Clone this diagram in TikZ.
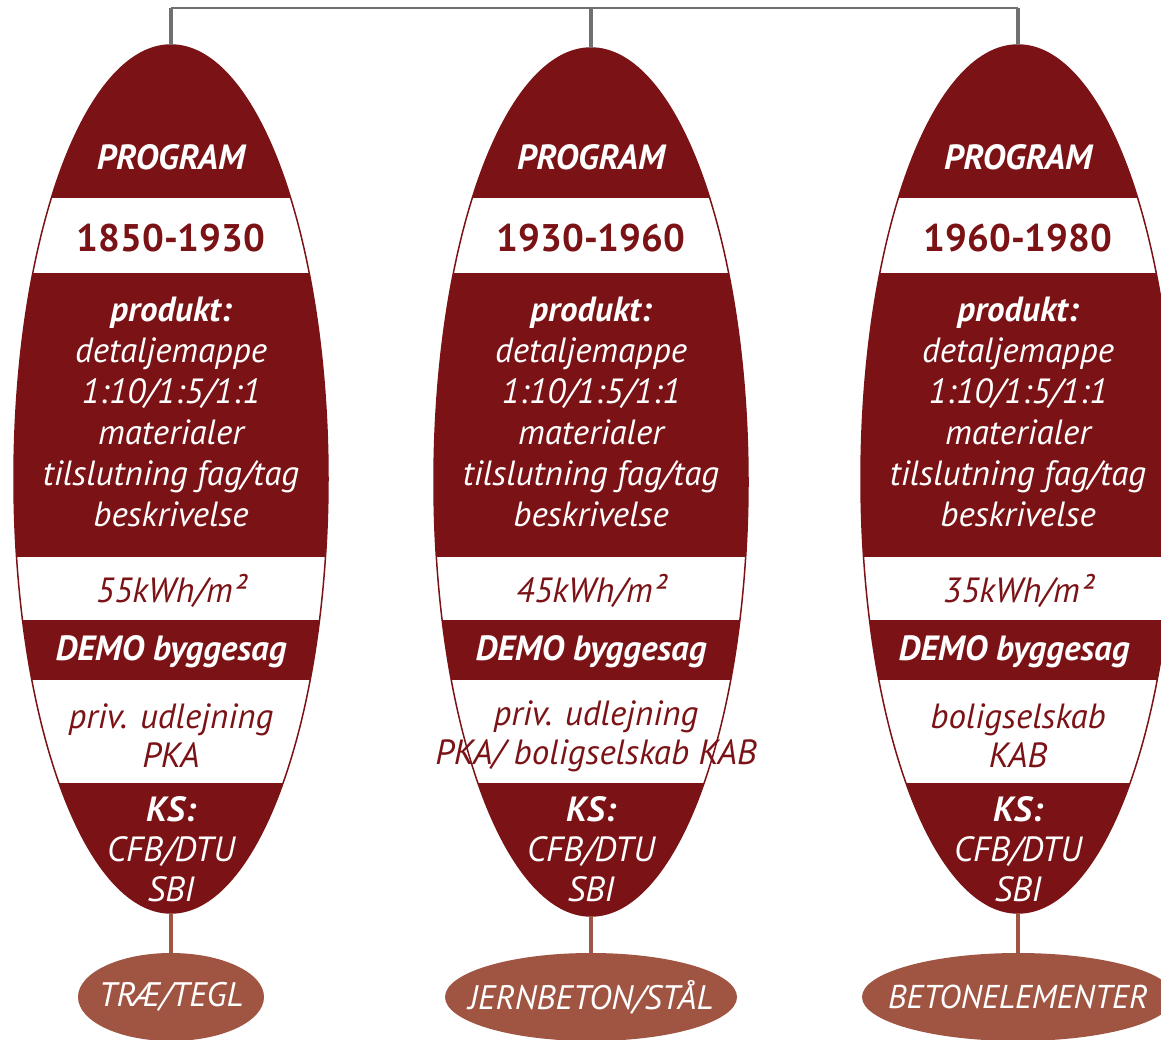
\documentclass[tikz,border=0pt]{standalone}
\usepackage{fontspec}
\setmainfont{PT Sans}
\usetikzlibrary{shapes.geometric,positioning}
\definecolor{wine}{RGB}{123,19,22}
\definecolor{clay}{RGB}{160,84,66}
\definecolor{wire}{RGB}{112,112,112}

\begin{document}
\begin{tikzpicture}[x=1pt,y=-1pt]
\tikzstyle{every node}+=[inner sep=0pt]
\tikzstyle{oval}=[ellipse, fill=wine, minimum width=314pt, minimum height=868pt]
\tikzstyle{base}=[ellipse, fill=clay, minimum height=88pt]
\tikzstyle{baselabel}=[text=white, font=\fontsize{34}{38}\selectfont\itshape]
\tikzstyle{head}=[text=white, font=\fontsize{35}{40}\selectfont\bfseries\itshape]
\tikzstyle{year}=[text=wine, font=\fontsize{38.5}{44}\selectfont\bfseries]
\tikzstyle{body}=[text=white, align=center, font=\fontsize{35}{41}\selectfont\itshape]
\tikzstyle{bandtext}=[text=wine, align=center, font=\fontsize{35}{39}\selectfont\itshape]
\tikzstyle{rail}=[wire, line width=2pt]
\tikzstyle{stem}=[wire, line width=4pt]
\tikzstyle{foot}=[clay, line width=4pt]
\useasboundingbox (0,0) rectangle (1161,1040);

% top bar
\coordinate (t1) at (171,8);
\coordinate (t2) at (591,8);
\coordinate (t3) at (1018,8);

% big ovals
\node[oval] (p1) at (171,479) {};
\node[oval] (p2) at (591,482) {};
\node[oval] (p3) at (1018,479) {};

% white bands
\begin{scope}
\clip (p1.center) ellipse (157pt and 434pt) (p2.center) ellipse (157pt and 434pt) (p3.center) ellipse (157pt and 434pt);
\fill[white] (0,198) rectangle (1161,273);
\fill[white] (0,557) rectangle (1161,620);
\fill[white] (0,680) rectangle (1161,783);
\end{scope}
\draw[wine, line width=1.5pt] (p1.center) ellipse (157pt and 434pt);
\draw[wine, line width=1.5pt] (p2.center) ellipse (157pt and 434pt);
\draw[wine, line width=1.5pt] (p3.center) ellipse (157pt and 434pt);

\draw[rail] (t1) -- (t3);
\draw[stem] (t1) -- (p1.north);
\draw[stem] (t2) -- (p2.north);
\draw[stem] (t3) -- (p3.north);

% materials
\node[base, minimum width=186pt] (b1) at (171,997) {};
\node[base, minimum width=292pt] (b2) at (591,997) {};
\node[base, minimum width=312pt] (b3) at (1018,997) {};
\draw[foot] (p1.south) -- (b1.north);
\draw[foot] (p2.south) -- (b2.north);
\draw[foot] (p3.south) -- (b3.north);
\node[baselabel] (m1) at (b1) {TRÆ/TEGL};
\node[baselabel] (m2) at (b2) {JERNBETON/STÅL};
\node[baselabel, font=\fontsize{33}{38}\selectfont\itshape] (m3) at (b3) {BETONELEMENTER};

% column 1
\node[head] (h1) at (171,157) {PROGRAM};
\node[year] (y1) at (171,238) {1850-1930};
\node[body] (d1) at (171,412) {\textbf{produkt:}\\detaljemappe\\1:10/1:5/1:1\\materialer\\tilslutning fag/tag\\beskrivelse};
\node[bandtext] (k1) at (171,591) {55kWh/m²};
\node[head] (s1) at (171,652) {DEMO byggesag};
\node[bandtext] (c1) at (171,736) {priv. udlejning\\PKA};
\node[body, font=\fontsize{35}{40}\selectfont\itshape] (q1) at (171,849) {\textbf{KS:}\\CFB/DTU\\SBI};

% column 2
\node[head] (h2) at (591,157) {PROGRAM};
\node[year] (y2) at (591,238) {1930-1960};
\node[body] (d2) at (591,412) {\textbf{produkt:}\\detaljemappe\\1:10/1:5/1:1\\materialer\\tilslutning fag/tag\\beskrivelse};
\node[bandtext] (k2) at (591,591) {45kWh/m²};
\node[head] (s2) at (591,652) {DEMO byggesag};
\node[bandtext] (c2) at (596,736) {priv. udlejning\\PKA/ boligselskab KAB};
\node[body, font=\fontsize{35}{40}\selectfont\itshape] (q2) at (591,849) {\textbf{KS:}\\CFB/DTU\\SBI};

% column 3
\node[head] (h3) at (1018,157) {PROGRAM};
\node[year] (y3) at (1018,238) {1960-1980};
\node[body] (d3) at (1018,412) {\textbf{produkt:}\\detaljemappe\\1:10/1:5/1:1\\materialer\\tilslutning fag/tag\\beskrivelse};
\node[bandtext] (k3) at (1018,591) {35kWh/m²};
\node[head] (s3) at (1014,652) {DEMO byggesag};
\node[bandtext] (c3) at (1018,736) {boligselskab\\KAB};
\node[body, font=\fontsize{35}{40}\selectfont\itshape] (q3) at (1018,849) {\textbf{KS:}\\CFB/DTU\\SBI};
\end{tikzpicture}
\end{document}
